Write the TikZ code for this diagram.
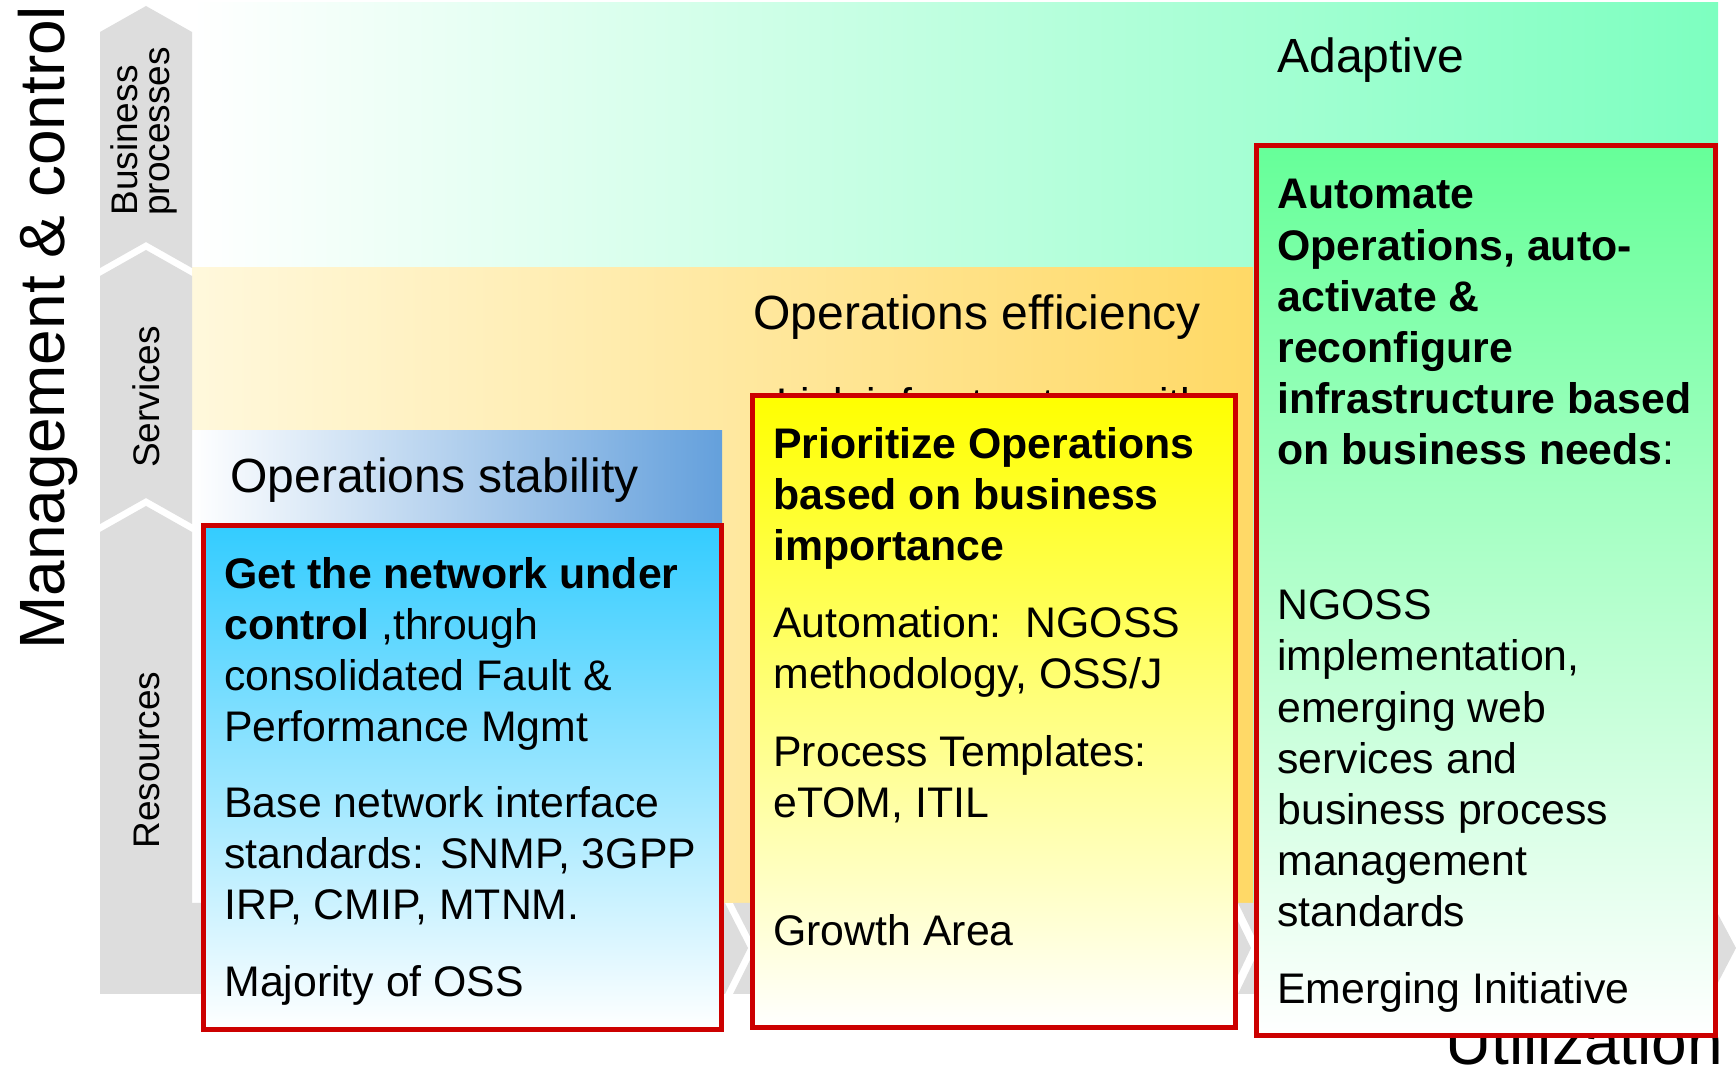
\documentclass[tikz,border=0pt]{standalone}
\usepackage{fontspec}
\setmainfont{Liberation Sans}

\definecolor{chevgray}{HTML}{DDDDDD}
\definecolor{boxred}{HTML}{CC0000}
\definecolor{adaptgreen}{HTML}{7DFFC0}
\definecolor{effcream}{HTML}{FFF8DC}
\definecolor{effgold}{HTML}{FFD966}
\definecolor{stabblue}{HTML}{64A0DC}
\definecolor{stabmid}{HTML}{D7E4F5}
\definecolor{netcyan}{HTML}{33CCFF}
\definecolor{prioyellow}{HTML}{FFFF00}
\definecolor{autogreen}{HTML}{66FF99}

\tikzset{
  chev/.style={fill=chevgray},
  redbox/.style={draw=boxred, line width=2.5pt},
  boxtext/.style={anchor=base west, align=left, inner sep=0pt,
    font=\fontsize{21.4pt}{25.6pt}\selectfont},
  bandtext/.style={anchor=base west, inner sep=0pt,
    font=\fontsize{24pt}{28pt}\selectfont},
  axistext/.style={inner sep=0pt, font=\fontsize{32pt}{36pt}\selectfont},
  sidetext/.style={rotate=90, inner sep=0pt, align=left,
    font=\fontsize{18.5pt}{16pt}\selectfont}
}

\begin{document}
\begin{tikzpicture}[x=0.5pt,y=-0.5pt]
\useasboundingbox (0,0) rectangle (1736,1068);

% background bands
\shade[left color=white, right color=adaptgreen] (192,3) rectangle (1718,903);
\shade[left color=effcream, right color=effgold] (192,268) rectangle (1253,903);
\shade[left color=white, middle color=stabmid, right color=stabblue] (192,431) rectangle (722,903);

% vertical chevrons
\fill[chev] (100,32) -- (146,6) -- (192,32) -- (192,268) -- (146,242) -- (100,268) -- cycle;
\fill[chev] (100,276) -- (146,250) -- (192,276) -- (192,524) -- (146,498) -- (100,524) -- cycle;
\fill[chev] (100,532) -- (146,506) -- (192,532) -- (192,994) -- (100,994) -- cycle;
% horizontal chevrons
\fill[chev] (100,903) -- (725,903) -- (748,948) -- (725,994) -- (100,994) -- cycle;
\fill[chev] (733,903) -- (1229,903) -- (1251,948) -- (1229,994) -- (733,994) -- (756,948) -- cycle;
\fill[chev] (1238,903) -- (1712,903) -- (1736,948) -- (1712,994) -- (1238,994) -- (1260,948) -- cycle;

% axis labels (multi-line nodes: base = last line)
\node[axistext, rotate=90, anchor=base west] (mgmt) at (64,650) {Management \& control};
\node[axistext, anchor=base west] (util) at (1445,1065) {Utilization};
\node[sidetext, anchor=base west] (biz) at (169,216) {Business\\processes};
\node[sidetext, anchor=base] (serv) at (159,397) {Services};
\node[sidetext, anchor=base] (res) at (159,760) {Resources};

% band titles
\node[bandtext] (adapt) at (1277,73) {Adaptive};
\node[bandtext] (eff) at (753,330) {Operations efficiency};
\node[bandtext] (stab) at (230,493) {Operations stability};
\node[boxtext] (link) at (776,419) {Link infrastructure with};

% stability box
\draw[redbox, top color=netcyan, bottom color=white] (203,526) rectangle (721,1030);
\node[boxtext] (net) at (224,742) {\textbf{Get the network under}\\\textbf{control} ,through\\consolidated Fault \&\\Performance Mgmt};
\node[boxtext] (base) at (224,920) {Base network interface\\standards: SNMP, 3GPP\\IRP, CMIP, MTNM.};
\node[boxtext] (major) at (224,997) {Majority of OSS};

% efficiency box
\draw[redbox, top color=prioyellow, bottom color=white] (752,396) rectangle (1235,1028);
\node[boxtext] (prio) at (773,561) {\textbf{Prioritize Operations}\\\textbf{based on business}\\\textbf{importance}};
\node[boxtext] (autom) at (773,689) {Automation:\ \ NGOSS\\methodology, OSS/J};
\node[boxtext] (templ) at (773,818) {Process Templates:\\eTOM, ITIL};
\node[boxtext] (growth) at (773,946) {Growth Area};

% adaptive box
\draw[redbox, top color=autogreen, bottom color=white] (1256,146) rectangle (1715,1036);
\node[boxtext] (autop) at (1277,465) {\textbf{Automate}\\\textbf{Operations, auto-}\\\textbf{activate \&}\\\textbf{reconfigure}\\\textbf{infrastructure based}\\\textbf{on business needs}:};
\node[boxtext] (ngoss) at (1277,927) {NGOSS\\implementation,\\emerging web\\services and\\business process\\management\\standards};
\node[boxtext] (emerg) at (1277,1004) {Emerging Initiative};
\end{tikzpicture}
\end{document}
